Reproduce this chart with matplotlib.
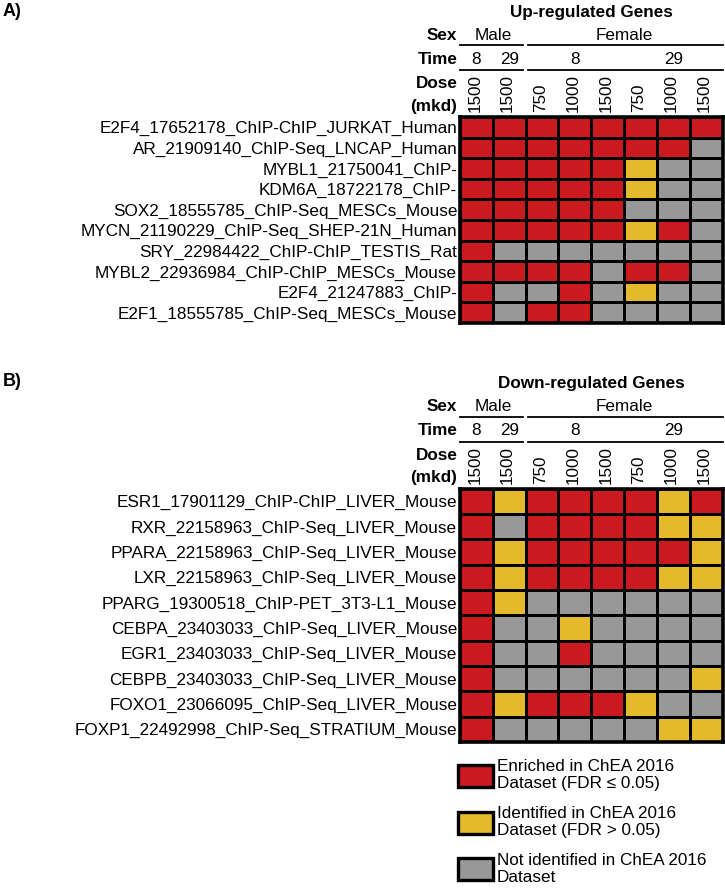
import matplotlib
matplotlib.use('Agg')
import matplotlib.pyplot as plt
import matplotlib.transforms as mtransforms
from matplotlib.colors import ListedColormap
from matplotlib.patches import Patch
from matplotlib.lines import Line2D
import numpy as np

plt.rcParams['font.family'] = ['Liberation Sans', 'DejaVu Sans']

W, H, DPI = 725, 890, 100

# ---------------- data ----------------
dose_labels = ['1500', '1500', '750', '1000', '1500', '750', '1000', '1500']
sex_groups = [('Male', 0, 2), ('Female', 2, 8)]          # (label, first col, end col)
time_groups = [('8', 0, 1), ('29', 1, 2), ('8', 2, 5), ('29', 5, 8)]

up_labels = [
    'E2F4_17652178_ChIP-ChIP_JURKAT_Human',
    'AR_21909140_ChIP-Seq_LNCAP_Human',
    'MYBL1_21750041_ChIP-',
    'KDM6A_18722178_ChIP-',
    'SOX2_18555785_ChIP-Seq_MESCs_Mouse',
    'MYCN_21190229_ChIP-Seq_SHEP-21N_Human',
    'SRY_22984422_ChIP-ChIP_TESTIS_Rat',
    'MYBL2_22936984_ChIP-ChIP_MESCs_Mouse',
    'E2F4_21247883_ChIP-',
    'E2F1_18555785_ChIP-Seq_MESCs_Mouse',
]
# 2 = enriched (FDR<=0.05), 1 = identified (FDR>0.05), 0 = not identified
up_status = [
    [2, 2, 2, 2, 2, 2, 2, 2],
    [2, 2, 2, 2, 2, 2, 2, 0],
    [2, 2, 2, 2, 2, 1, 0, 0],
    [2, 2, 2, 2, 2, 1, 0, 0],
    [2, 2, 2, 2, 2, 0, 0, 0],
    [2, 2, 2, 2, 2, 1, 2, 0],
    [2, 0, 0, 0, 0, 0, 0, 0],
    [2, 2, 2, 2, 0, 2, 2, 0],
    [2, 0, 0, 2, 0, 1, 0, 0],
    [2, 0, 2, 2, 0, 0, 0, 0],
]

down_labels = [
    'ESR1_17901129_ChIP-ChIP_LIVER_Mouse',
    'RXR_22158963_ChIP-Seq_LIVER_Mouse',
    'PPARA_22158963_ChIP-Seq_LIVER_Mouse',
    'LXR_22158963_ChIP-Seq_LIVER_Mouse',
    'PPARG_19300518_ChIP-PET_3T3-L1_Mouse',
    'CEBPA_23403033_ChIP-Seq_LIVER_Mouse',
    'EGR1_23403033_ChIP-Seq_LIVER_Mouse',
    'CEBPB_23403033_ChIP-Seq_LIVER_Mouse',
    'FOXO1_23066095_ChIP-Seq_LIVER_Mouse',
    'FOXP1_22492998_ChIP-Seq_STRATIUM_Mouse',
]
down_status = [
    [2, 1, 2, 2, 2, 2, 1, 2],
    [2, 0, 2, 2, 2, 2, 1, 1],
    [2, 1, 2, 2, 2, 2, 2, 1],
    [2, 1, 2, 2, 2, 2, 1, 1],
    [2, 1, 0, 0, 0, 0, 0, 0],
    [2, 0, 0, 1, 0, 0, 0, 0],
    [2, 0, 0, 2, 0, 0, 0, 0],
    [2, 0, 0, 0, 0, 0, 0, 1],
    [2, 1, 2, 2, 2, 1, 0, 0],
    [2, 0, 0, 0, 0, 0, 1, 1],
]

status_colors = ['#989898', '#E4B92C', '#CB1A1F']
legend_status = [2, 1, 0]
legend_labels = [
    'Enriched in ChEA 2016\nDataset (FDR \u2264 0.05)',
    'Identified in ChEA 2016\nDataset (FDR > 0.05)',
    'Not identified in ChEA 2016\nDataset',
]

# ---------------- figure ----------------
fig = plt.figure(figsize=(W / DPI, H / DPI), dpi=DPI)
cmap = ListedColormap(status_colors)


def fy(y):
    return 1 - y / H


def panel(letter, letter_y, title, labels, status, left, top, right, bottom):
    ax = fig.add_axes([left / W, 1 - bottom / H, (right - left) / W, (bottom - top) / H])
    data = np.array(status)
    nr, nc = data.shape
    ax.pcolormesh(np.arange(nc + 1), np.arange(nr + 1), data, cmap=cmap,
                  vmin=-0.5, vmax=2.5, edgecolors='black', linewidth=2.0)
    ax.set_xlim(0, nc)
    ax.set_ylim(nr, 0)
    ax.set_xticks([])
    ax.set_yticks(np.arange(nr) + 0.5)
    ax.set_yticklabels(labels, fontsize=12.3)
    ax.tick_params(axis='y', length=0, pad=2)
    for s in ax.spines.values():
        s.set_linewidth(2.6)

    tr = mtransforms.blended_transform_factory(ax.transData, fig.transFigure)
    fs = 12.3
    xl = -0.08
    # title
    ax.text(nc / 2, fy(top - 105), title, transform=tr, ha='center', va='center',
            fontsize=fs, fontweight='bold')
    # row headers
    ax.text(xl, fy(top - 82), 'Sex', transform=tr, ha='right', va='center',
            fontsize=fs, fontweight='bold')
    ax.text(xl, fy(top - 58), 'Time', transform=tr, ha='right', va='center',
            fontsize=fs, fontweight='bold')
    ax.text(xl, fy(top - 33), 'Dose', transform=tr, ha='right', va='center',
            fontsize=fs, fontweight='bold')
    ax.text(xl, fy(top - 11), '(mkd)', transform=tr, ha='right', va='center',
            fontsize=fs, fontweight='bold')
    gap = 0.08
    for lab, a, b in sex_groups:
        ax.text((a + b) / 2, fy(top - 82), lab, transform=tr, ha='center', va='center', fontsize=fs)
        ax.add_line(Line2D([a + (gap if a > 0 else 0), b - (gap if b < nc else 0)],
                           [fy(top - 72)] * 2, transform=tr, color='black', lw=1.3, clip_on=False))
        ax.add_line(Line2D([a + (gap if a > 0 else 0), b - (gap if b < nc else 0)],
                           [fy(top - 47)] * 2, transform=tr, color='black', lw=1.3, clip_on=False))
    for lab, a, b in time_groups:
        ax.text((a + b) / 2, fy(top - 58), lab, transform=tr, ha='center', va='center', fontsize=fs)
    for i, d in enumerate(dose_labels):
        ax.text(i + 0.45, fy(top - 4.5), d, transform=tr, ha='center', va='bottom',
                rotation=90, fontsize=fs)
    fig.text(0.004, fy(letter_y), letter, ha='left', va='center', fontsize=13, fontweight='bold')
    return ax


panel('A)', 12, 'Up-regulated Genes', up_labels, up_status, 460, 117, 722.5, 323)
panel('B)', 382, 'Down-regulated Genes', down_labels, down_status, 460, 488.5, 722.5, 742)

handles = [Patch(facecolor=status_colors[s], edgecolor='black', linewidth=2.4) for s in legend_status]
fig.legend(handles, legend_labels, loc='upper left', bbox_to_anchor=(458 / W, fy(759)),
           frameon=False, fontsize=12.3, handlelength=2.05, handleheight=1.6,
           handletextpad=0.22, labelspacing=0.85, borderpad=0, borderaxespad=0)

fig.savefig('out.png', dpi=DPI)
